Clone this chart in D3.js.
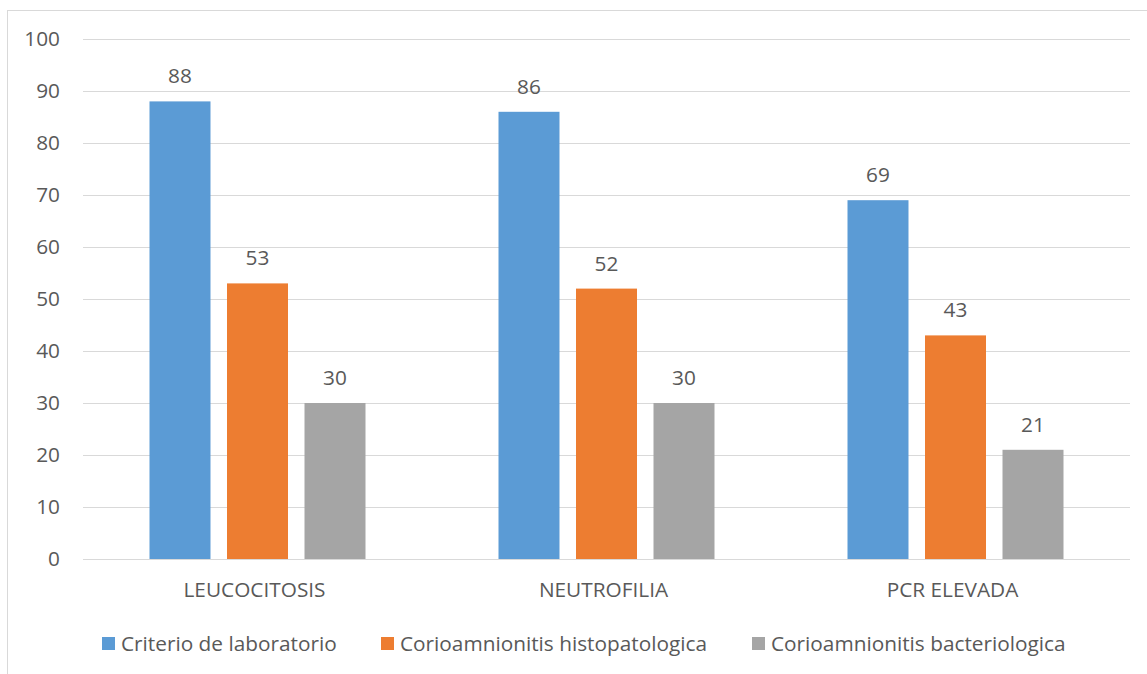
<!DOCTYPE html>
<html>
<head>
<meta charset="utf-8">
<script src="https://cdn.jsdelivr.net/npm/d3@7"></script>
<style>
  html, body { margin: 0; padding: 0; background: #fff; }
  svg { display: block; }
  text { font-family: "Open Sans", Lato, sans-serif; fill: #595959; }
</style>
</head>
<body>
<svg id="chart" width="1147" height="674"></svg>
<script>
// Laboratory criteria vs. chorioamnionitis findings (%)
const categories = ["LEUCOCITOSIS", "NEUTROFILIA", "PCR ELEVADA"];
const seriesNames = ["Criterio de laboratorio", "Corioamnionitis histopatologica", "Corioamnionitis bacteriologica"];
const criterioLab = [88, 86, 69];
const histopatologica = [53, 52, 43];
const bacteriologica = [30, 30, 21];
const yTicks = [0, 10, 20, 30, 40, 50, 60, 70, 80, 90, 100];
const colors = ["#5B9BD5", "#ED7D31", "#A5A5A5"];

const FONT = "'Open Sans', Lato, sans-serif";
const FS = 20.8;
const TEXT_COLOR = "#555555";

const seriesValues = [criterioLab, histopatologica, bacteriologica];
const rows = categories.map((c, i) => ({
  category: c,
  values: seriesNames.map((s, j) => ({ series: s, value: seriesValues[j][i], color: colors[j] }))
}));

const svg = d3.select("#chart");
const plot = { left: 83, right: 1130, top: 39, bottom: 559 };

// Outer chart frame (only top and left edges fall inside the view)
svg.append("rect")
  .attr("x", 7.5).attr("y", 10.5)
  .attr("width", 1160).attr("height", 700)
  .attr("fill", "none").attr("stroke", "#D9D9D9").attr("stroke-width", 1);

const y = d3.scaleLinear().domain([0, 100]).range([plot.bottom, plot.top]);
const x0 = d3.scaleBand().domain(categories).range([plot.left, plot.right]).padding(0);
const x1 = d3.scaleBand().domain(seriesNames).range([0, x0.bandwidth()])
  .paddingInner(0.213).paddingOuter(0.858);

// Gridlines
svg.append("g")
  .selectAll("line")
  .data(yTicks)
  .join("line")
  .attr("x1", plot.left).attr("x2", plot.right)
  .attr("y1", d => Math.round(y(d)) + 0.5).attr("y2", d => Math.round(y(d)) + 0.5)
  .attr("stroke", "#D9D9D9").attr("stroke-width", 1);

// Y axis labels
const yAxis = d3.axisLeft(y).tickValues(yTicks).tickSize(0).tickPadding(0);
const yg = svg.append("g").attr("transform", `translate(60,0)`).call(yAxis);
yg.select(".domain").remove();
yg.selectAll("text").attr("font-size", FS).attr("fill", TEXT_COLOR)
  .style("font-family", FONT);

// Bars
const groups = svg.append("g")
  .selectAll("g")
  .data(rows)
  .join("g")
  .attr("transform", d => `translate(${x0(d.category)},0)`);

groups.selectAll("rect")
  .data(d => d.values)
  .join("rect")
  .attr("x", d => x1(d.series))
  .attr("width", x1.bandwidth())
  .attr("y", d => y(d.value))
  .attr("height", d => y(0) - y(d.value))
  .attr("fill", d => d.color);

// Value labels
groups.selectAll("text.val")
  .data(d => d.values)
  .join("text")
  .attr("class", "val")
  .attr("x", d => x1(d.series) + x1.bandwidth() / 2)
  .attr("y", d => y(d.value) - 18)
  .attr("text-anchor", "middle")
  .attr("font-size", FS)
  .attr("fill", TEXT_COLOR)
  .text(d => d.value);

// Category axis labels
const xAxis = d3.axisBottom(x0).tickSize(0).tickPadding(0);
const xg = svg.append("g").attr("transform", `translate(0,${plot.bottom})`).call(xAxis);
xg.select(".domain").remove();
xg.selectAll("text")
  .attr("dy", null)
  .attr("y", 38)
  .attr("x", -3)
  .attr("font-size", FS)
  .attr("fill", TEXT_COLOR)
  .style("font-family", FONT);

// Legend
const legendX = [102, 381, 752];
const legend = svg.append("g")
  .selectAll("g")
  .data(seriesNames)
  .join("g")
  .attr("transform", (d, i) => `translate(${legendX[i]},637)`);
legend.append("rect")
  .attr("width", 13).attr("height", 13)
  .attr("fill", (d, i) => colors[i]);
legend.append("text")
  .attr("x", 19).attr("y", 13.5)
  .attr("font-size", FS)
  .attr("fill", TEXT_COLOR)
  .text(d => d);
</script>
</body>
</html>
